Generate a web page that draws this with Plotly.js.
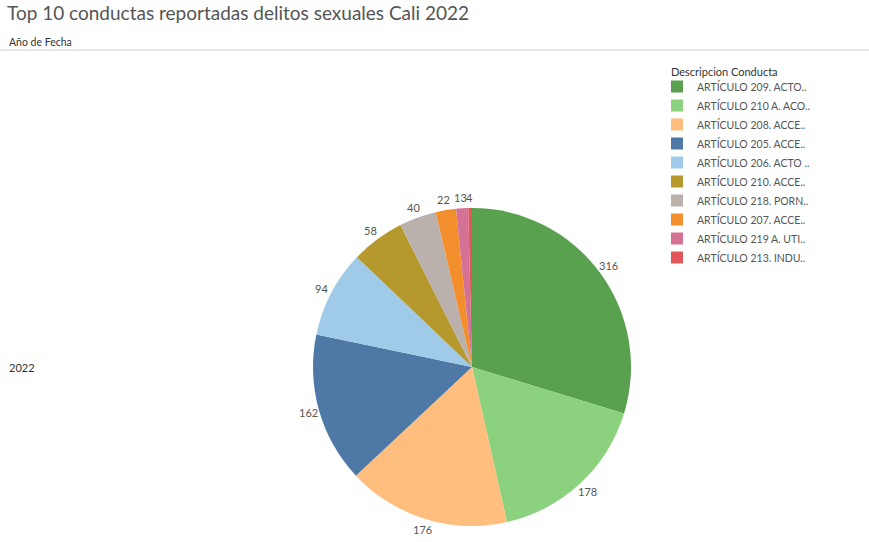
<!DOCTYPE html>
<html>
<head>
<meta charset="utf-8">
<script src="https://cdn.plot.ly/plotly-3.0.1.min.js"></script>
<style>html,body{margin:0;padding:0;background:#fff;}#chart{width:869px;height:542px;}</style>
</head>
<body>
<div id="chart"></div>
<script>
const labels = [
  "ARTÍCULO 209. ACTO..",
  "ARTÍCULO 210 A. ACO..",
  "ARTÍCULO 208. ACCE..",
  "ARTÍCULO 205. ACCE..",
  "ARTÍCULO 206. ACTO ..",
  "ARTÍCULO 210. ACCE..",
  "ARTÍCULO 218. PORN..",
  "ARTÍCULO 207. ACCE..",
  "ARTÍCULO 219 A. UTI..",
  "ARTÍCULO 213. INDU.."
];
const values = [316, 178, 176, 162, 94, 58, 40, 22, 13, 4];
const colors = ["#59A14F", "#8CD17D", "#FFBE7D", "#4E79A7", "#A0CBE8", "#B6992D", "#BAB0AC", "#F28E2B", "#D37295", "#E15759"];
const titleText = "Top 10 conductas reportadas delitos sexuales Cali 2022";
const rowHeader = "Año de Fecha";
const rowLabel = "2022";
const legendTitle = "Descripcion Conducta";

const W = 869, H = 542;
const cx = 472, cy = 367, r = 159, labelR = 170;
const FONT = "Lato, 'Open Sans', sans-serif";

const trace = {
  type: "pie",
  labels: labels,
  values: values,
  sort: false,
  direction: "clockwise",
  rotation: 0,
  marker: {colors: colors, line: {color: "#ffffff", width: 0}},
  textinfo: "none",
  automargin: false,
  hoverinfo: "label+value",
  domain: {x: [(cx - r) / W, (cx + r) / W], y: [(H - cy - r) / H, (H - cy + r) / H]}
};

// value labels at each slice's mid-angle, derived from the values
const total = values.reduce((a, b) => a + b, 0);
let cum = 0;
const pos = values.map(v => {
  const mid = (cum + v / 2) / total * 2 * Math.PI;
  cum += v;
  return {x: cx + labelR * Math.sin(mid), y: cy - labelR * Math.cos(mid), w: String(v).length * 6.2};
});
// simple horizontal de-overlap for neighbouring labels
for (let i = pos.length - 2; i >= 0; i--) {
  const a = pos[i], b = pos[i + 1];
  if (Math.abs(a.y - b.y) < 12 && a.x + a.w / 2 + 0.5 > b.x - b.w / 2) {
    a.x = b.x - b.w / 2 - a.w / 2 - 0.5;
  }
}
const valueAnnotations = values.map((v, i) => ({
  text: String(v), x: pos[i].x / W, y: 1 - pos[i].y / H, xref: "paper", yref: "paper",
  xanchor: "center", yanchor: "middle", showarrow: false,
  font: {family: FONT, size: 11, color: "#555"}
}));

const layout = {
  width: W, height: H,
  margin: {l: 0, r: 0, t: 0, b: 0},
  paper_bgcolor: "#fff",
  font: {family: FONT, color: "#555"},
  title: {
    text: titleText,
    x: 7 / W, xanchor: "left", xref: "paper",
    y: 1 - 13 / H, yanchor: "middle", yref: "paper",
    font: {family: FONT, size: 19, color: "#555"}
  },
  showlegend: true,
  legend: {
    x: 657 / W, xanchor: "left",
    y: 1 - 72 / H, yanchor: "top",
    font: {family: FONT, size: 10.5, color: "#555"},
    itemwidth: 30,
    tracegroupgap: 0,
    bgcolor: "rgba(0,0,0,0)"
  },
  annotations: [
    {text: legendTitle, x: 669 / W, y: 1 - 72 / H, xref: "paper", yref: "paper", xanchor: "left", yanchor: "middle", showarrow: false,
     font: {family: FONT, size: 11, color: "#333"}},
    {text: rowHeader, x: 7 / W, y: 1 - 42 / H, xref: "paper", yref: "paper", xanchor: "left", yanchor: "middle", showarrow: false,
     font: {family: FONT, size: 10.5, color: "#333"}},
    {text: rowLabel, x: 7 / W, y: 1 - 367 / H, xref: "paper", yref: "paper", xanchor: "left", yanchor: "middle", showarrow: false,
     font: {family: FONT, size: 11, color: "#333"}}
  ].concat(valueAnnotations),
  shapes: [
    {type: "line", xref: "paper", yref: "paper", x0: 0, x1: 1, y0: 1 - 50 / H, y1: 1 - 50 / H, line: {color: "#d0d0d0", width: 1}}
  ]
};

Plotly.newPlot("chart", [trace], layout, {displayModeBar: false, staticPlot: true});
</script>
</body>
</html>
